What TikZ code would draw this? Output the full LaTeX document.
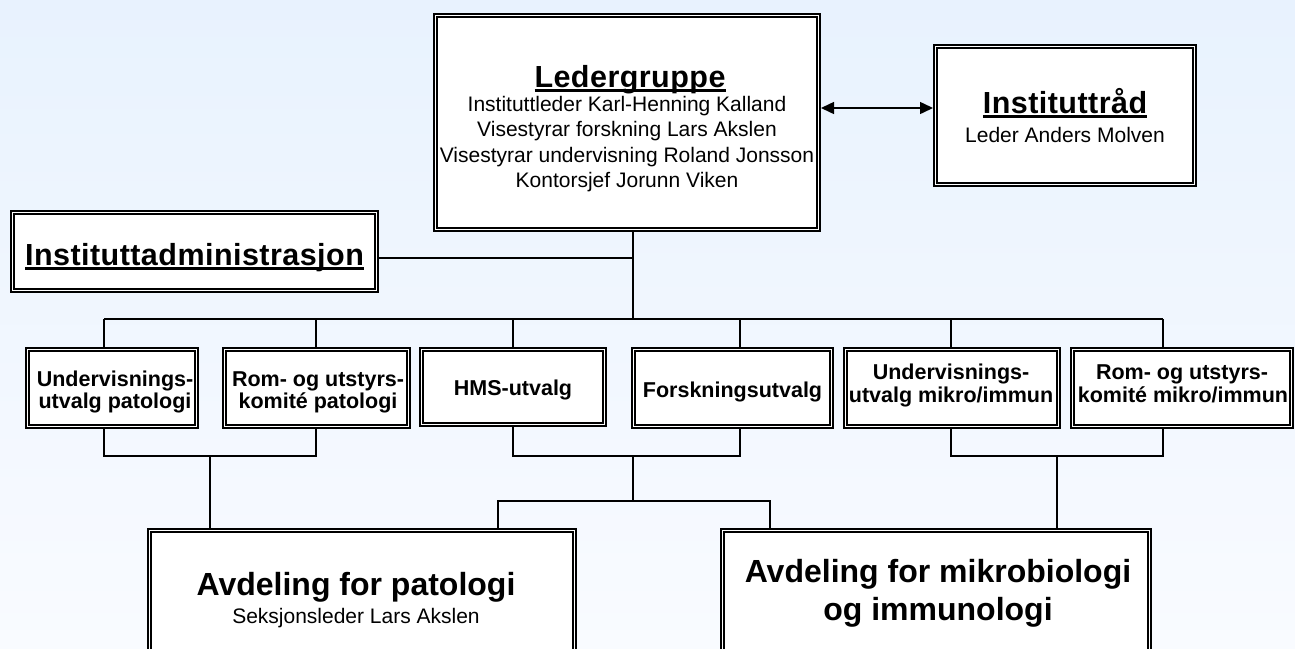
\documentclass[tikz,border=0pt]{standalone}
\usepackage{fontspec}
\setmainfont{Liberation Sans}
\newfontfamily\titlefam[LetterSpace=1.5]{Liberation Sans}
\usetikzlibrary{arrows.meta}
\definecolor{bgtop}{RGB}{232,242,254}
\definecolor{bgbot}{RGB}{249,251,255}
\newcommand\myul[1]{\leavevmode\setbox0\hbox{#1}\rlap{\rule[-5pt]{\wd0}{3pt}}\box0}
\tikzset{
  dbox/.style={draw=black, line width=1.7pt, double=white, double distance=1.7pt,
    fill=white, inner sep=0pt, outer sep=2.55pt},
  conn/.style={line width=1.5pt, draw=black},
  bigt/.style={font=\titlefam\bfseries\fontsize{30.5}{32}\selectfont, inner sep=0pt, anchor=base},
  subt/.style={font=\fontsize{21}{24}\selectfont, inner sep=0pt, anchor=base},
  smallt/.style={font=\bfseries\fontsize{21.5}{23}\selectfont, inner sep=0pt, anchor=base},
  deptt/.style={font=\bfseries\fontsize{32}{34}\selectfont, inner sep=0pt, anchor=base},
}
\begin{document}
\begin{tikzpicture}[x=1pt,y=-1pt]
\useasboundingbox (0,0) rectangle (1295,648);
\clip (0,0) rectangle (1295,648);
\fill[top color=bgtop, bottom color=bgbot] (0,0) rectangle (1295,648);

% boxes
\node[dbox, minimum width=382.9pt, minimum height=213.9pt] (LG) at (627,122.5) {};
\node[dbox, minimum width=258.9pt, minimum height=137.9pt] (IR) at (1065,115.5) {};
\node[dbox, minimum width=363.9pt, minimum height=77.9pt] (IA) at (194.5,251.5) {};
\node[dbox, minimum width=168.9pt, minimum height=76.9pt] (UP) at (112,388) {};
\node[dbox, minimum width=183.9pt, minimum height=76.9pt] (RP) at (316.5,388) {};
\node[dbox, minimum width=182.9pt, minimum height=74.9pt] (HMS) at (513,387) {};
\node[dbox, minimum width=197.9pt, minimum height=76.9pt] (FU) at (732.5,388) {};
\node[dbox, minimum width=212.9pt, minimum height=76.9pt] (UM) at (952,388) {};
\node[dbox, minimum width=218.9pt, minimum height=76.9pt] (RM) at (1182,388) {};
\node[dbox, minimum width=424.9pt, minimum height=194.9pt] (PAT) at (362,628) {};
\node[dbox, minimum width=426.9pt, minimum height=194.9pt] (MIK) at (936,628) {};

% texts
\node[bigt] (LGt1) at (630,87) {\myul{Ledergruppe}};
\node[subt] (LGt2) at (627,111) {Instituttleder Karl-Henning Kalland};
\node[subt] (LGt3) at (627,136.5) {Visestyrar forskning Lars Akslen};
\node[subt] (LGt4) at (627,162) {Visestyrar undervisning Roland Jonsson};
\node[subt] (LGt5) at (627,187.5) {Kontorsjef Jorunn Viken};
\node[bigt] (IRt1) at (1065,113) {\myul{Instituttråd}};
\node[subt] (IRt2) at (1065,142) {Leder Anders Molven};
\node[bigt] (IAt) at (194.5,265) {\myul{Instituttadministrasjon}};
\node[smallt] (UPt1) at (115,386) {Undervisnings-};
\node[smallt] (UPt2) at (115,408) {utvalg patologi};
\node[smallt] (RPt1) at (318,386) {Rom- og utstyrs-};
\node[smallt] (RPt2) at (318,408) {komité patologi};
\node[smallt] (HMSt) at (513,395) {HMS-utvalg};
\node[smallt] (FUt) at (732.5,397) {Forskningsutvalg};
\node[smallt] (UMt1) at (951,379) {Undervisnings-};
\node[smallt] (UMt2) at (951,402) {utvalg mikro/immun};
\node[smallt] (RMt1) at (1182,379) {Rom- og utstyrs-};
\node[smallt] (RMt2) at (1183,402) {komité mikro/immun};
\node[deptt] (PATt1) at (356,595) {Avdeling for patologi};
\node[subt] (PATt2) at (356,623) {Seksjonsleder Lars Akslen};
\node[deptt] (MIKt1) at (938,582) {Avdeling for mikrobiologi};
\node[deptt] (MIKt2) at (938,620) {og immunologi};

% connectors
\coordinate (ay) at (0,108);
\draw[conn, {Triangle[length=13pt,width=12pt]}-{Triangle[length=13pt,width=12pt]}] (LG.east |- ay) -- (IR.west |- ay);
\coordinate (t0) at (633,319);
\coordinate (ia) at (633,258);
\draw[conn] (LG.south -| t0) -- (t0);
\draw[conn] (IA.east |- ia) -- (ia);
\coordinate (b1) at (104,319);
\coordinate (b2) at (316,319);
\coordinate (b3) at (513,319);
\coordinate (b4) at (740,319);
\coordinate (b5) at (951,319);
\coordinate (b6) at (1163,319);
\draw[conn] (b1) -- (b6);
\draw[conn] (b1) -- (UP.north -| b1);
\draw[conn] (b2) -- (RP.north -| b2);
\draw[conn] (b3) -- (HMS.north -| b3);
\draw[conn] (b4) -- (FU.north -| b4);
\draw[conn] (b5) -- (UM.north -| b5);
\draw[conn] (b6) -- (RM.north -| b6);
\coordinate (l1) at (104,456);
\coordinate (l2) at (316,456);
\coordinate (l3) at (513,456);
\coordinate (l4) at (740,456);
\coordinate (l5) at (951,456);
\coordinate (l6) at (1163,456);
\draw[conn] (UP.south -| l1) -- (l1) -- (l2) -- (RP.south -| l2);
\draw[conn] (HMS.south -| l3) -- (l3) -- (l4) -- (FU.south -| l4);
\draw[conn] (UM.south -| l5) -- (l5) -- (l6) -- (RM.south -| l6);
\coordinate (p1) at (210,456);
\draw[conn] (p1) -- (PAT.north -| p1);
\coordinate (m0) at (633,456);
\coordinate (m1) at (633,501);
\coordinate (m2) at (498,501);
\coordinate (m3) at (770,501);
\draw[conn] (m0) -- (m1);
\draw[conn] (PAT.north -| m2) -- (m2) -- (m3) -- (MIK.north -| m3);
\coordinate (k1) at (1057,456);
\draw[conn] (k1) -- (MIK.north -| k1);
\end{tikzpicture}
\end{document}
